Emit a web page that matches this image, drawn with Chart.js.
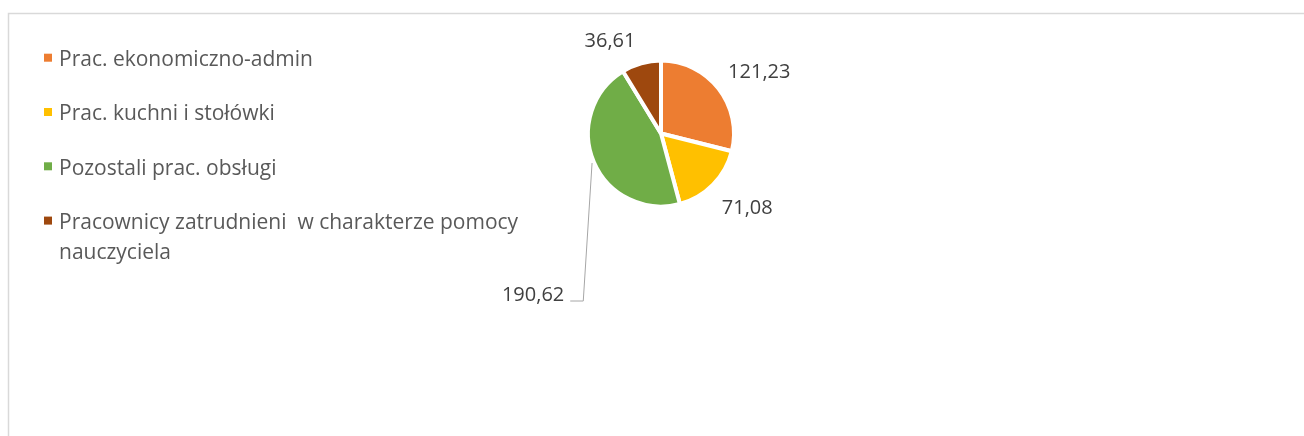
<!DOCTYPE html>
<html>
<head>
<meta charset="utf-8">
<script src="https://cdn.jsdelivr.net/npm/chart.js@4"></script>
<style>
  html, body { margin: 0; padding: 0; background: #ffffff; }
  #wrap { position: absolute; left: 0; top: 0; width: 1304px; height: 436px; }
</style>
</head>
<body>
<div id="wrap"><canvas id="c" width="1304" height="436"></canvas></div>
<script>
const categories = [
  "Prac. ekonomiczno-admin",
  "Prac. kuchni i stołówki",
  "Pozostali prac. obsługi",
  "Pracownicy zatrudnieni  w charakterze pomocy nauczyciela"
];
const legendLines = [
  ["Prac. ekonomiczno-admin"],
  ["Prac. kuchni i stołówki"],
  ["Pozostali prac. obsługi"],
  ["Pracownicy zatrudnieni  w charakterze pomocy", "nauczyciela"]
];
const values = [121.23, 71.08, 190.62, 36.61];
const valueLabels = ["121,23", "71,08", "190,62", "36,61"];
const colors = ["#ED7D31", "#FFC000", "#70AD47", "#9E480E"];

const FONT = "'Open Sans', Lato, sans-serif";

const framePlugin = {
  id: 'frame',
  beforeDraw(chart) {
    const ctx = chart.ctx;
    ctx.save();
    ctx.strokeStyle = '#d9d9d9';
    ctx.lineWidth = 1.5;
    ctx.strokeRect(8.5, 13.5, 1310, 440);
    ctx.restore();
  }
};

const legendPlugin = {
  id: 'customLegend',
  afterDraw(chart) {
    const ctx = chart.ctx;
    ctx.save();
    ctx.font = "21px " + FONT;
    ctx.textBaseline = 'alphabetic';
    const startY = 66, step = 54.3, lineH = 30;
    legendLines.forEach((lines, i) => {
      const base = startY + i * step;
      ctx.fillStyle = colors[i];
      ctx.fillRect(44, base - 12.3, 8, 8);
      ctx.fillStyle = '#595959';
      lines.forEach((t, j) => ctx.fillText(t, 59, base + j * lineH));
    });
    ctx.restore();
  }
};

// label placement relative to pie centre, in units of the pie radius
const labelPlace = [
  { fx: 1.31, fy: -0.82, align: 'center' },
  { fx: 1.15, fy: 1.0, align: 'center' },
  { fx: -1.29, fy: 2.16, align: 'right', leader: true },
  { fx: -0.68, fy: -1.23, align: 'center' }
];

const labelPlugin = {
  id: 'valueLabels',
  afterDatasetsDraw(chart) {
    const ctx = chart.ctx;
    const meta = chart.getDatasetMeta(0);
    ctx.save();
    ctx.font = "20px " + FONT;
    ctx.fillStyle = '#404040';
    ctx.textBaseline = 'middle';
    meta.data.forEach((arc, i) => {
      const p = arc.getProps(['x', 'y', 'startAngle', 'endAngle', 'outerRadius'], true);
      const R = p.outerRadius + (chart.data.datasets[0].borderWidth || 0) / 2;
      const lx = p.x + labelPlace[i].fx * R;
      const ly = p.y + labelPlace[i].fy * R;
      ctx.textAlign = labelPlace[i].align;
      ctx.fillText(valueLabels[i], lx, ly);
      if (labelPlace[i].leader) {
        const mid = (p.startAngle + p.endAngle) / 2;
        const ex = p.x + Math.cos(mid) * R;
        const ey = p.y + Math.sin(mid) * R;
        ctx.strokeStyle = '#a6a6a6';
        ctx.lineWidth = 1;
        ctx.beginPath();
        ctx.moveTo(lx + 6, ly + 5.5);
        ctx.lineTo(lx + 19, ly + 5.5);
        ctx.lineTo(ex, ey);
        ctx.stroke();
      }
    });
    ctx.restore();
  }
};

new Chart(document.getElementById('c'), {
  type: 'pie',
  data: {
    labels: categories,
    datasets: [{
      data: values,
      backgroundColor: colors,
      borderColor: '#ffffff',
      borderWidth: 4
    }]
  },
  options: {
    responsive: false,
    animation: false,
    layout: { padding: { left: 586, top: 58, right: 568, bottom: 227 } },
    plugins: {
      legend: { display: false },
      tooltip: { enabled: false }
    }
  },
  plugins: [framePlugin, legendPlugin, labelPlugin]
});
</script>
</body>
</html>
